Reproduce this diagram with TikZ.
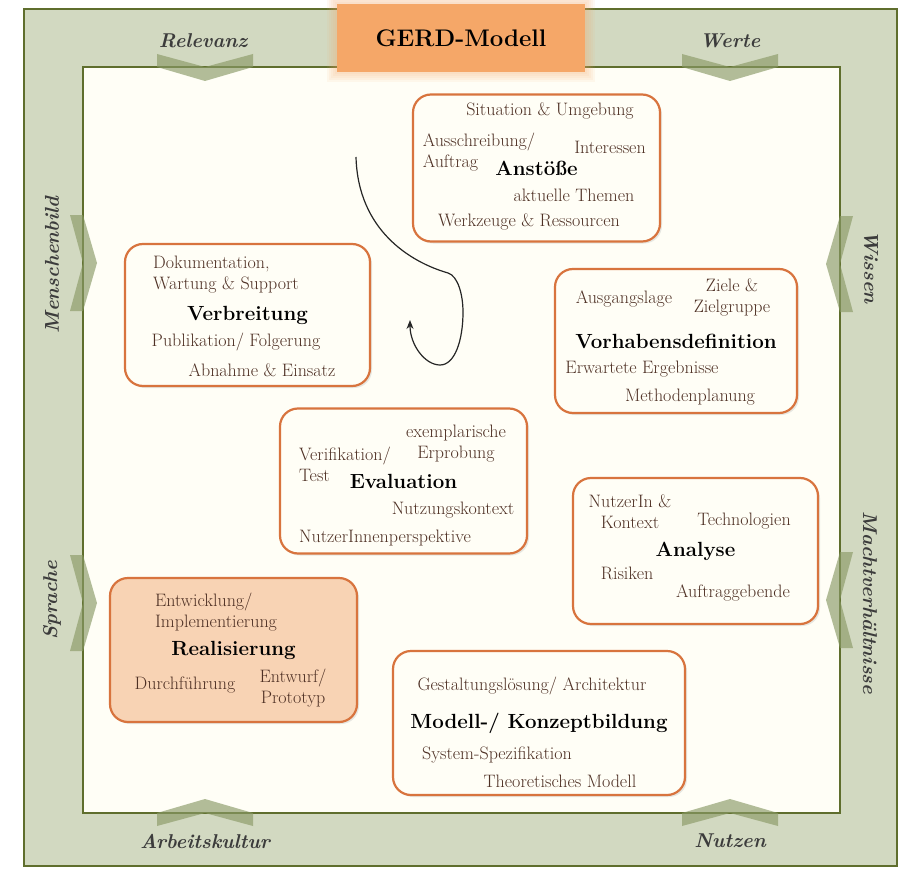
\documentclass[tikz,border=0pt]{standalone}
\usepackage{fontspec}
\usetikzlibrary{arrows.meta,shadows}

\definecolor{framegreen}{HTML}{D2D9C1}
\definecolor{frameline}{HTML}{5F6E2D}
\definecolor{innercream}{HTML}{FFFEF6}
\definecolor{chevgreen}{HTML}{8A9A66}
\definecolor{boxline}{HTML}{D8743E}
\definecolor{itembrown}{HTML}{4E3024}
\definecolor{realfill}{HTML}{F8D3B4}
\definecolor{titleorange}{HTML}{F5A768}
\definecolor{labelgray}{HTML}{3C3C3C}

\tikzset{
  phasebox/.style={draw=boxline, line width=2.2pt, rounded corners=18pt, fill=innercream,
    font=\fontsize{20.5}{24}\selectfont\bfseries, text=black,
    drop shadow={shadow xshift=2pt, shadow yshift=-2pt, fill=gray!60, opacity=.3}},
  item/.style={font=\fontsize{18}{21}\selectfont, text=itembrown, inner sep=0pt},
  sidelabel/.style={font=\fontsize{20}{22}\selectfont\bfseries\itshape, text=labelgray},
  titlebox/.style={fill=titleorange, font=\fontsize{24}{27}\selectfont\bfseries, text=black},
  swirl/.style={line width=1.2pt, draw=black!85, -{Stealth[length=9pt,width=7pt]}},
  chevron/.pic={\fill[chevgreen, opacity=.65] (-48,-13) -- (0,0) -- (48,-13) -- (48,0) -- (0,14) -- (-48,0) -- cycle;}
}

\begin{document}
\begin{tikzpicture}[x=1pt, y=-1pt]
\useasboundingbox (0,0) rectangle (899,869);
\fill[white] (0,0) rectangle (899,869);

% frames
\filldraw[fill=framegreen, draw=frameline, line width=2pt] (24,9) rectangle (897,866);
\filldraw[fill=innercream, draw=frameline, line width=2pt] (83,67) rectangle (840,813);

% influences
\pic at (205,67) {chevron};
\pic at (730,67) {chevron};
\pic[rotate=90] at (83,263) {chevron};
\pic[rotate=90] at (83,603) {chevron};
\pic[rotate=-90] at (840,264) {chevron};
\pic[rotate=-90] at (840,600) {chevron};
\pic[rotate=180] at (205,813) {chevron};
\pic[rotate=180] at (730,813) {chevron};

\node[sidelabel] (relevanz) at (203,41) {Relevanz};
\node[sidelabel] (werte) at (730,41) {Werte};
\node[sidelabel, rotate=90] (menschenbild) at (52,265) {Menschenbild};
\node[sidelabel, rotate=90] (sprache) at (52,600) {Sprache};
\node[sidelabel, rotate=-90] (wissen) at (871,267) {Wissen};
\node[sidelabel, rotate=-90] (macht) at (870,603) {Machtverhältnisse};
\node[sidelabel] (arbeitskultur) at (205,841) {Arbeitskultur};
\node[sidelabel] (nutzen) at (730,841) {Nutzen};

% title
\foreach \g in {2,4,...,10}
  \fill[titleorange, opacity=.08] (337-\g,4-\g) rectangle (585+\g,72+\g);
\node[titlebox, minimum width=248pt, minimum height=68pt] (gerd) at (461,38) {GERD-Modell};

% phases
\node[phasebox, minimum width=247pt, minimum height=147pt] (anstoesse) at (536.5,168) {Anstöße};
\node[item] (situation) at (550,111) {Situation \& Umgebung};
\node[item, align=left] (ausschreibung) at (479,152) {Ausschreibung/\\Auftrag};
\node[item] (interessen) at (610,147) {Interessen};
\node[item] (themen) at (574,195) {aktuelle Themen};
\node[item] (werkzeuge) at (529,222) {Werkzeuge \& Ressourcen};

\node[phasebox, minimum width=245pt, minimum height=142pt] (verbreitung) at (247.5,315) {Verbreitung};
\node[item, align=left] (doku) at (226,275) {Dokumentation,\\Wartung \& Support};
\node[item] (publikation) at (236,342) {Publikation/ Folgerung};
\node[item] (abnahme) at (262,370) {Abnahme \& Einsatz};

\node[phasebox, minimum width=242pt, minimum height=144pt] (vorhaben) at (676,341) {Vorhabensdefinition};
\node[item] (ausgangslage) at (624,299) {Ausgangslage};
\node[item, align=center] (ziele) at (732,297) {Ziele \&\\Zielgruppe};
\node[item] (erwartete) at (642,369) {Erwartete Ergebnisse};
\node[item] (methoden) at (690,397) {Methodenplanung};

\node[phasebox, minimum width=247pt, minimum height=145pt] (evaluation) at (403.5,481) {Evaluation};
\node[item, align=center] (exemplarisch) at (456,444) {exemplarische\\Erprobung};
\node[item, align=left] (verifikation) at (345,464) {Verifikation/\\Test};
\node[item] (nutzungskontext) at (453,510) {Nutzungskontext};
\node[item] (perspektive) at (385,538) {NutzerInnenperspektive};

\node[phasebox, minimum width=245pt, minimum height=146pt] (analyse) at (695.5,551) {Analyse};
\node[item, align=center] (nutzerin) at (630,512) {NutzerIn \&\\Kontext};
\node[item] (technologien) at (744,521) {Technologien};
\node[item] (risiken) at (627,573) {Risiken};
\node[item] (auftraggebende) at (733,593) {Auftraggebende};

\node[phasebox, fill=realfill, minimum width=247pt, minimum height=144pt] (realisierung) at (233.5,650) {Realisierung};
\node[item, align=left] (entwicklung) at (216,612) {Entwicklung/\\Implementierung};
\node[item] (durchfuehrung) at (185,685) {Durchführung};
\node[item, align=center] (entwurf) at (293,688) {Entwurf/\\Prototyp};

\node[phasebox, minimum width=292pt, minimum height=144pt] (modell) at (539,723) {Modell-/ Konzeptbildung};
\node[item] (gestaltung) at (532,686) {Gestaltungslösung/ Architektur};
\node[item] (spezifikation) at (497,755) {System-Spezifikation};
\node[item] (theoretisch) at (560,781) {Theoretisches Modell};

% cycle
\coordinate (swirlStart) at (356,157);
\coordinate (swirlMid) at (448,273);
\coordinate (swirlRight) at (463,312);
\coordinate (swirlLow) at (440,365);
\coordinate (swirlEnd) at (410,320);
\draw[swirl] (swirlStart) .. controls (358,230) and (410,262) .. (swirlMid)
  .. controls (458,276) and (463,295) .. (swirlRight)
  .. controls (463,340) and (455,365) .. (swirlLow)
  .. controls (425,365) and (410,345) .. (swirlEnd);
\end{tikzpicture}
\end{document}
